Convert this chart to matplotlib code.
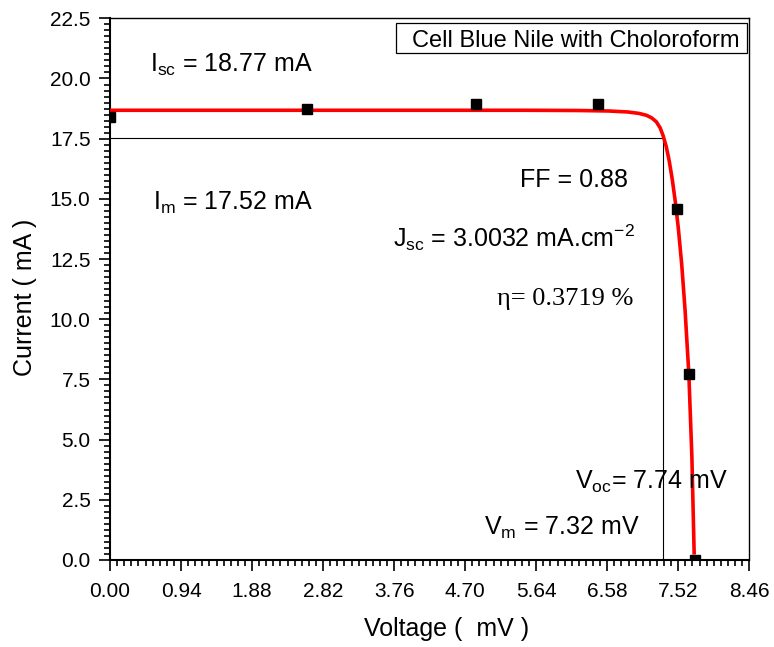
import matplotlib
matplotlib.use("Agg")
import matplotlib.pyplot as plt
from matplotlib.ticker import MultipleLocator, FixedLocator
from matplotlib.patches import Rectangle
import numpy as np

plt.rcParams['font.family'] = ['Liberation Sans', 'DejaVu Sans']
plt.rcParams['mathtext.fontset'] = 'custom'
plt.rcParams['mathtext.rm'] = 'Liberation Sans'
plt.rcParams['mathtext.it'] = 'Liberation Sans'

# measured I-V points
v_meas = [0.0, 2.61, 4.84, 6.46, 7.50, 7.66, 7.74]
i_meas = [18.38, 18.73, 18.94, 18.94, 14.56, 7.72, 0.0]

# fitted curve
v_fit = [0.0, 3.0, 5.5, 6.2, 6.6, 6.85, 7.00, 7.10, 7.17, 7.23, 7.28, 7.32,
         7.36, 7.40, 7.44, 7.48, 7.52, 7.565, 7.61, 7.66, 7.70, 7.73]
i_fit = [18.68, 18.68, 18.68, 18.67, 18.65, 18.61, 18.55, 18.47, 18.36, 18.20,
         17.95, 17.62, 17.18, 16.58, 15.82, 14.90, 13.80, 12.30, 10.38, 7.72,
         4.30, 0.3]

v_max_power = 7.32
i_max_power = 17.52

x_ticks = [0.00, 0.94, 1.88, 2.82, 3.76, 4.70, 5.64, 6.58, 7.52, 8.46]
y_ticks = [0.0, 2.5, 5.0, 7.5, 10.0, 12.5, 15.0, 17.5, 20.0, 22.5]

fig = plt.figure(figsize=(7.74, 6.47), dpi=100)
ax = fig.add_axes([0.1421, 0.1345, 0.8260, 0.8372])

ax.plot(v_fit, i_fit, color='red', lw=2.6, zorder=3)
ax.plot(v_meas, i_meas, 's', color='black', ms=7.5, zorder=4)

# max power point guide lines
ax.plot([0, v_max_power], [i_max_power, i_max_power], color='black', lw=0.8)
ax.plot([v_max_power, v_max_power], [0, i_max_power], color='black', lw=0.8)

ax.set_xlim(0, 8.46)
ax.set_ylim(0, 22.5)
ax.xaxis.set_major_locator(FixedLocator(x_ticks))
ax.xaxis.set_minor_locator(MultipleLocator(0.094))
ax.yaxis.set_major_locator(FixedLocator(y_ticks))
ax.yaxis.set_minor_locator(MultipleLocator(0.25))
ax.set_xticklabels([f'{t:.2f}' for t in x_ticks])
ax.set_yticklabels([f'{t:.1f}' for t in y_ticks])

ax.tick_params(which='both', direction='out', top=False, right=False,
               width=1.2, labelsize=15)
ax.tick_params(which='major', length=8)
ax.tick_params(which='minor', length=4)
ax.tick_params(axis='x', pad=8)
ax.tick_params(axis='y', pad=6)
for s in ax.spines.values():
    s.set_linewidth(1.0)
for s in ['left', 'bottom']:
    ax.spines[s].set_linewidth(1.5)

ax.set_xlabel('Voltage (  mV )', fontsize=18)
ax.xaxis.set_label_coords(0.527, -0.105)
ax.set_ylabel('Current ( mA )', fontsize=18)
ax.yaxis.set_label_coords(-0.114, 0.484)

fs = 18
ax.text(0.53, 20.27, r'I$_{\mathrm{sc}}$ = 18.77 mA', fontsize=fs, ha='left', va='baseline')
ax.text(0.57, 14.56, r'I$_{\mathrm{m}}$ = 17.52 mA', fontsize=fs, ha='left', va='baseline')
ax.text(6.85, 15.50, 'FF = 0.88', fontsize=fs, ha='right', va='baseline')
ax.text(3.74, 13.01, r'J$_{\mathrm{sc}}$ = 3.0032 mA.cm$^{\mathrm{-2}}$', fontsize=fs,
        ha='left', va='baseline')
ax.text(6.92, 10.59, 'η= 0.3719 %', fontsize=19, ha='right', va='baseline',
        family=['Liberation Serif', 'DejaVu Serif'])
ax.text(6.15, 2.94, r'V$_{\mathrm{oc}}$= 7.74 mV', fontsize=fs, ha='left', va='baseline')
ax.text(7.01, 1.04, r'V$_{\mathrm{m}}$ = 7.32 mV', fontsize=fs, ha='right', va='baseline')

# title box in the upper right corner
ax.add_patch(Rectangle((0.447, 0.936), 0.550, 0.055, transform=ax.transAxes,
                       facecolor='white', edgecolor='black', lw=0.9, zorder=5))
ax.text(0.472, 0.947, 'Cell Blue Nile with Choloroform', transform=ax.transAxes,
        fontsize=17, ha='left', va='baseline', zorder=6)

fig.savefig('out.png', dpi=100)
